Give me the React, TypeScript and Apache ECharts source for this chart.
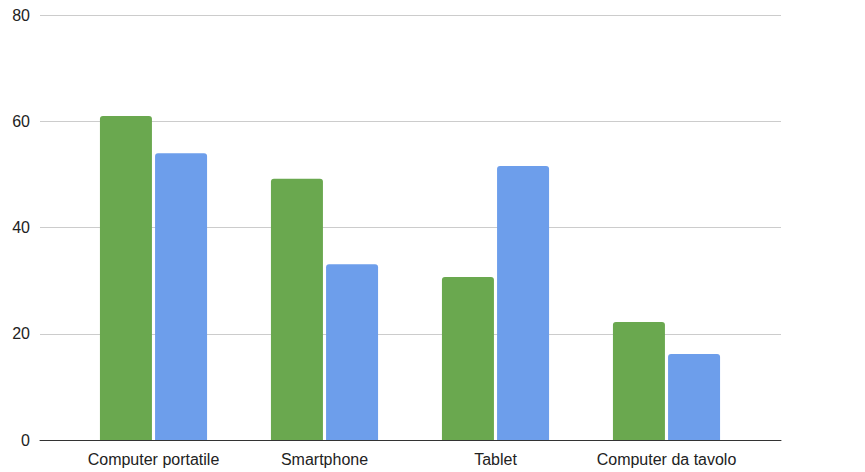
import React, { useEffect, useRef } from "react";
import * as echarts from "echarts";

const categories = ["Computer portatile", "Smartphone", "Tablet", "Computer da tavolo"];
const seriesGreen = [61.0, 49.2, 30.7, 22.2];
const seriesBlue = [54.0, 33.1, 51.6, 16.2];
const yTicks = [0, 20, 40, 60, 80];

export default function App() {
  const ref = useRef<HTMLDivElement>(null);
  useEffect(() => {
    if (!ref.current) return;
    const chart = echarts.init(ref.current, null, { renderer: "svg" });
    const font = "'Liberation Sans', Arial, sans-serif";
    chart.setOption({
      animation: false,
      backgroundColor: "#ffffff",
      grid: [
        { left: 40, right: 84, top: 15, bottom: 32 },
        { left: 68, right: 113, top: 15, bottom: 32 },
      ],
      xAxis: [
        {
          type: "value",
          gridIndex: 0,
          min: 0,
          max: 1,
          axisLine: { show: true, onZero: false, lineStyle: { color: "#333333", width: 1 } },
          axisTick: { show: false },
          axisLabel: { show: false },
          splitLine: { show: false },
        },
        {
          type: "category",
          gridIndex: 1,
          data: categories,
          axisLine: { show: false },
          axisTick: { show: false },
          axisLabel: { color: "#222222", fontSize: 16, fontFamily: font, margin: 11, interval: 0, hideOverlap: false },
        },
      ],
      yAxis: [
        {
          type: "value",
          gridIndex: 0,
          min: yTicks[0],
          max: yTicks[yTicks.length - 1],
          interval: 20,
          axisLine: { show: false },
          axisTick: { show: false },
          axisLabel: { color: "#222222", fontSize: 16, fontFamily: font, margin: 10 },
          splitLine: { lineStyle: { color: "#cccccc", width: 1 } },
        },
        {
          type: "value",
          gridIndex: 1,
          min: yTicks[0],
          max: yTicks[yTicks.length - 1],
          interval: 20,
          show: false,
          splitLine: { show: false },
        },
      ],
      series: [
        {
          type: "bar",
          xAxisIndex: 1,
          yAxisIndex: 1,
          data: seriesGreen,
          barWidth: 52,
          barGap: "6%",
          itemStyle: { color: "#6aa84f", borderRadius: [3, 3, 0, 0] },
        },
        {
          type: "bar",
          xAxisIndex: 1,
          yAxisIndex: 1,
          data: seriesBlue,
          barWidth: 52,
          barGap: "6%",
          itemStyle: { color: "#6d9eeb", borderRadius: [3, 3, 0, 0] },
        },
      ],
    });
    return () => chart.dispose();
  }, []);
  return (
    <div style={{ position: "absolute", left: 0, top: 0, width: 865, height: 472, background: "#fff" }}>
      <div ref={ref} style={{ width: 865, height: 472 }} />
    </div>
  );
}
